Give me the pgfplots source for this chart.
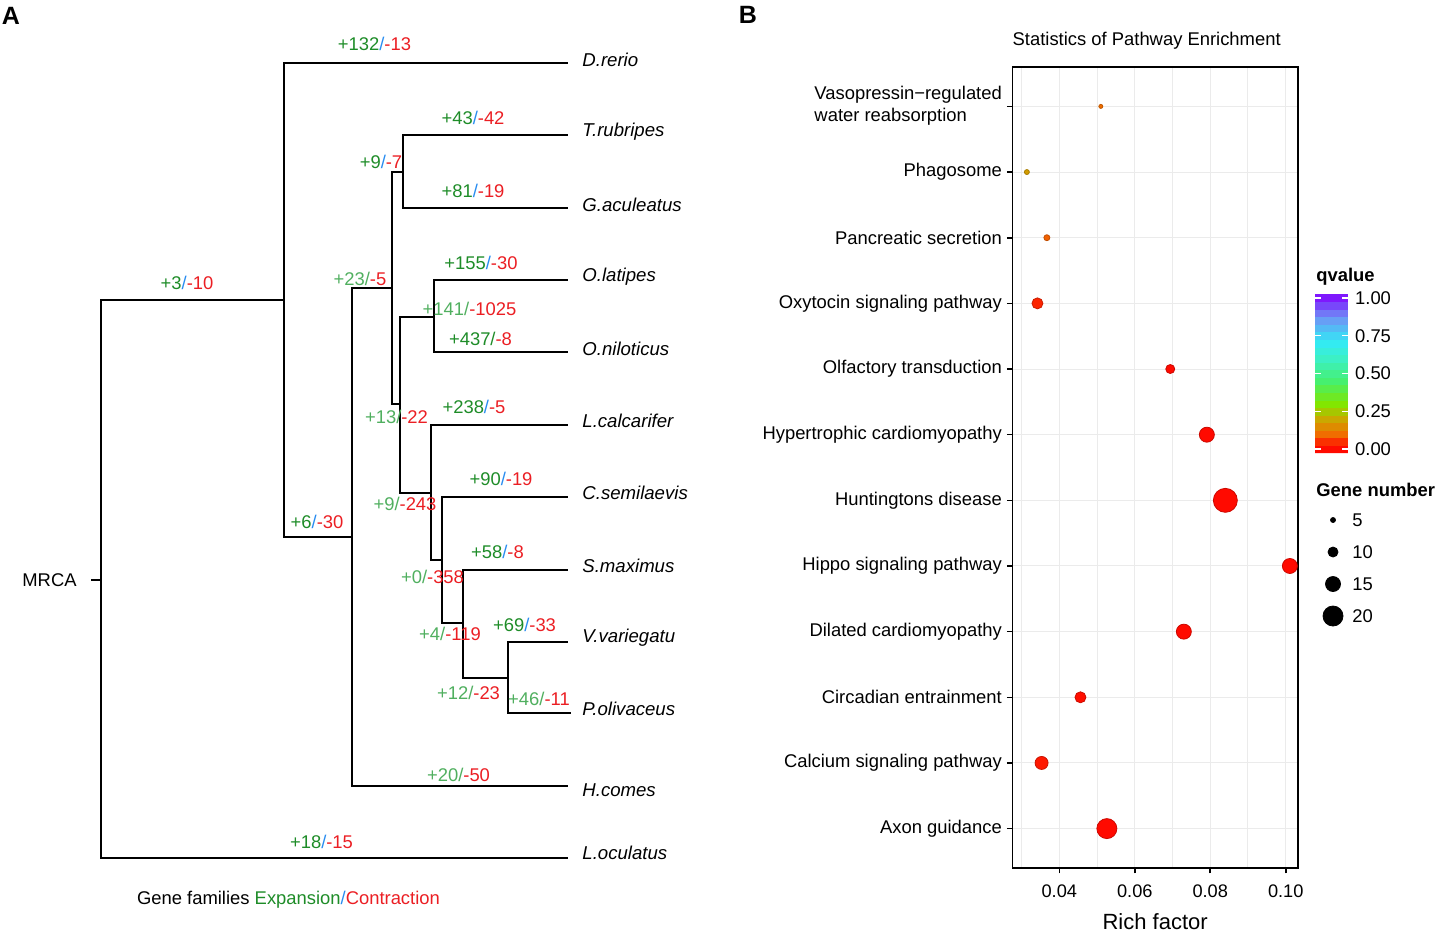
\documentclass[border=0pt]{standalone}
\usepackage{fontspec}
\setmainfont{Liberation Sans}
\usepackage{pgfplots}
\pgfplotsset{compat=1.18}
\usepackage{pgfplotstable}

\definecolor{dg}{RGB}{30,140,40}
\definecolor{lg}{RGB}{80,175,95}
\definecolor{bl}{RGB}{40,140,240}
\definecolor{rd}{RGB}{235,30,35}
\definecolor{gridc}{RGB}{235,235,235}

\newcommand{\ft}{\fontsize{9.2}{11}\selectfont}
\newcommand{\fsp}{\fontsize{9.3}{11}\selectfont\itshape}
% gain/loss label: green colour, number, slash colour, number
\newcommand{\gl}[4]{{\ft\textcolor{#1}{+#2}\textcolor{#3}{/}\textcolor{rd}{-#4}}}

\pgfplotsset{
  every tick label/.append style={font=\fontsize{9.1}{11}\selectfont},
  /pgf/number format/assume math mode=true,
  tree/.style={black, line width=1pt, line cap=rect, mark=none},
  thintree/.style={black, line width=0.6pt, line cap=rect, mark=none},
}

% enrichment: rich factor, row, qvalue, gene number
\pgfplotstableread{
x      y  q     n
0.0526 1  0.000 20
0.0353 2  0.030 13
0.0456 3  0.012 11
0.0730 4  0.000 15
0.1011 5  0.000 15
0.0840 6  0.000 24
0.0791 7  0.000 15
0.0694 8  0.000 9
0.0342 9  0.040 11
0.0367 10 0.090 6
0.0314 11 0.180 5
0.0510 12 0.100 4
}\pathway

\pgfplotstableread{
x    y   n
1333 520 5
1333 552 10
1333 584 15
1333 616 20
}\sizekey

\begin{document}
\begin{tikzpicture}
\useasboundingbox (0,0) rectangle (719pt,466.5pt);

% panel A, drawn in pixel units of the page
\begin{axis}[
  at={(0,0)}, anchor=south west, scale only axis,
  width=719pt, height=466.5pt,
  xmin=0, xmax=1438, ymin=0, ymax=933, y dir=reverse,
  hide axis, clip=false,
]
\addplot[tree] coordinates {(567,858) (101,858) (101,300) (284,300)};
\addplot[tree] coordinates {(567,63) (284,63) (284,537) (352,537)};
\addplot[tree] coordinates {(392,288) (352,288) (352,786) (567,786)};
\addplot[thintree] coordinates {(403,172) (392,172) (392,404) (400,404)};
\addplot[tree] coordinates {(567,135) (403,135) (403,208) (567,208)};
\addplot[tree] coordinates {(434,317) (400,317)};
\addplot[thintree] coordinates {(400,317) (400,493)};
\addplot[tree] coordinates {(400,493) (431,493)};
\addplot[tree] coordinates {(567,280) (434,280) (434,352) (567,352)};
\addplot[tree] coordinates {(567,425) (431,425) (431,560) (442,560)};
\addplot[tree] coordinates {(567,497) (442,497) (442,623) (463,623)};
\addplot[tree] coordinates {(567,570) (463,570)};
\addplot[thintree] coordinates {(463,570) (463,678) (508,678)};
\addplot[tree] coordinates {(567,642) (508,642) (508,713) (570,713)};
\addplot[tree] coordinates {(92,580) (101,580)};

\node at (axis cs:374.5,44) {\gl{dg}{132}{bl}{13}};
\node at (axis cs:473,118) {\gl{dg}{43}{bl}{42}};
\node at (axis cs:381,162) {\gl{dg}{9}{bl}{7}};
\node at (axis cs:473,191) {\gl{dg}{81}{bl}{19}};
\node at (axis cs:360,279) {\gl{lg}{23}{lg}{5}};
\node at (axis cs:481,263) {\gl{dg}{155}{bl}{30}};
\node at (axis cs:469.5,309) {\gl{lg}{141}{lg}{1025}};
\node at (axis cs:480.5,339) {\gl{dg}{437}{dg}{8}};
\node at (axis cs:474,407) {\gl{dg}{238}{bl}{5}};
\node at (axis cs:396.5,417) {\gl{lg}{13}{lg}{22}};
\node at (axis cs:501,479) {\gl{dg}{90}{bl}{19}};
\node at (axis cs:405,504) {\gl{lg}{9}{lg}{243}};
\node at (axis cs:317,522) {\gl{dg}{6}{bl}{30}};
\node at (axis cs:497.5,552) {\gl{dg}{58}{bl}{8}};
\node at (axis cs:432.5,577) {\gl{lg}{0}{lg}{358}};
\node at (axis cs:524.5,625) {\gl{dg}{69}{bl}{33}};
\node at (axis cs:450,634) {\gl{lg}{4}{lg}{119}};
\node at (axis cs:468.5,693) {\gl{lg}{12}{lg}{23}};
\node at (axis cs:539,699) {\gl{lg}{46}{lg}{11}};
\node at (axis cs:458.5,775) {\gl{lg}{20}{lg}{50}};
\node at (axis cs:187,283) {\gl{dg}{3}{bl}{10}};
\node at (axis cs:321.5,842) {\gl{dg}{18}{bl}{15}};

\begin{scope}[every node/.style={anchor=west, inner sep=0pt, font=\fsp}]
\node at (axis cs:582,60) {D.rerio};
\node at (axis cs:582,132) {T.rubripes};
\node at (axis cs:582,205) {G.aculeatus};
\node at (axis cs:582,277) {O.latipes};
\node at (axis cs:582,349) {O.niloticus};
\node at (axis cs:582,421) {L.calcarifer};
\node at (axis cs:582,493) {C.semilaevis};
\node at (axis cs:582,566) {S.maximus};
\node at (axis cs:582,638) {V.variegatu};
\node at (axis cs:582,709) {P.olivaceus};
\node at (axis cs:582,790) {H.comes};
\node at (axis cs:582,853) {L.oculatus};
\end{scope}

\node[font=\ft] at (axis cs:49.5,580) {MRCA};
\node[font=\ft] at (axis cs:288.5,900) {Gene families \textcolor{dg}{Expansion}\textcolor{bl}{/}\textcolor{rd}{Contraction}};
\node[font=\fontsize{12.5}{14}\selectfont\bfseries] at (axis cs:11,16) {A};
\node[font=\fontsize{12.5}{14}\selectfont\bfseries] at (axis cs:748,15) {B};

% legends of panel B
\node[font=\ft\bfseries, anchor=west, inner sep=0pt] at (axis cs:1316,277) {qvalue};
\node[font=\ft\bfseries, anchor=west, inner sep=0pt] at (axis cs:1316,490) {Gene number};
\addplot[scatter, only marks, mark=*, point meta=explicit,
  scatter/use mapped color={draw=black, fill=black},
  visualization depends on={\thisrow{n}/4 \as \msz},
  scatter/@pre marker code/.append style={/tikz/mark size=\msz}]
  table[x=x, y=y, meta=n] {\sizekey};
\begin{scope}[every node/.style={anchor=west, inner sep=0pt, font=\ft}]
\node at (axis cs:1352,520) {5};
\node at (axis cs:1352,552) {10};
\node at (axis cs:1352,584) {15};
\node at (axis cs:1352,616) {20};
\end{scope}
\end{axis}

% panel B
\begin{axis}[
  at={(506.15pt,32.5pt)}, anchor=south west, scale only axis,
  width=142.85pt, height=400.5pt,
  xmin=0.02754, xmax=0.10326, ymin=0.4, ymax=12.6,
  clip=false,
  axis line style={black, line width=0.75pt},
  xtick={0.04,0.06,0.08,0.1},
  minor xtick={0.03,0.05,0.07,0.09},
  xticklabel style={yshift=-2pt, /pgf/number format/.cd, fixed, fixed zerofill, precision=2},
  ytick={1,...,12},
  yticklabels={Axon guidance, Calcium signaling pathway, Circadian entrainment,
    Dilated cardiomyopathy, Hippo signaling pathway\hspace{5.5pt}, Huntingtons disease,
    Hypertrophic cardiomyopathy, Olfactory transduction, Oxytocin signaling pathway,
    Pancreatic secretion, Phagosome,
    {\begin{tabular}{@{}l@{}}Vasopressin−regulated\\water reabsorption\end{tabular}}},
  yticklabel style={font=\ft, xshift=1pt},
  xtick pos=bottom, ytick pos=left,
  tick align=outside, major tick length=2.7pt, minor tick length=0pt,
  major tick style={black, line width=0.8pt},
  grid=both,
  major grid style={gridc, line width=0.5pt},
  minor grid style={gridc, line width=0.5pt},
  colormap={qv}{rgb255(0cm)=(255,0,0); rgb255(0.5cm)=(255,20,0); rgb255(1.2cm)=(240,110,0);
    rgb255(2.1cm)=(205,165,0); rgb255(3.1cm)=(130,230,0); rgb255(4.5cm)=(70,240,110);
    rgb255(6cm)=(60,240,200); rgb255(7cm)=(50,235,245); rgb255(8.5cm)=(110,150,245);
    rgb255(10cm)=(130,0,255)},
  point meta min=-0.026, point meta max=1.026,
  colorbar sampled,
  colorbar style={
    at={(parent axis.north east)}, anchor=north west,
    xshift=0pt, yshift=-113.5pt,
    width=16.5pt, height=79.5pt, samples=22,
    ytick={0,0.25,0.5,0.75,1},
    yticklabel style={font=\ft, /pgf/number format/.cd, fixed, fixed zerofill, precision=2},
    yticklabel pos=right,
    axis line style={draw=none},
    tick align=inside, major tick length=3pt,
    major tick style={white, line width=0.6pt},
  },
]
\addplot[scatter, only marks, mark=*, point meta=explicit,
  visualization depends on={\thisrow{n}/4 \as \msz},
  scatter/@pre marker code/.append style={/tikz/mark size=\msz}]
  table[x=x, y=y, meta=q] {\pathway};
\node[font=\ft, anchor=west, inner sep=0pt] at (rel axis cs:0,1) [yshift=13pt] {Statistics of Pathway Enrichment};
\node[font=\fontsize{11}{13}\selectfont] at (rel axis cs:0.5,0) [yshift=-27pt] {Rich factor};
\end{axis}
\end{tikzpicture}
\end{document}
